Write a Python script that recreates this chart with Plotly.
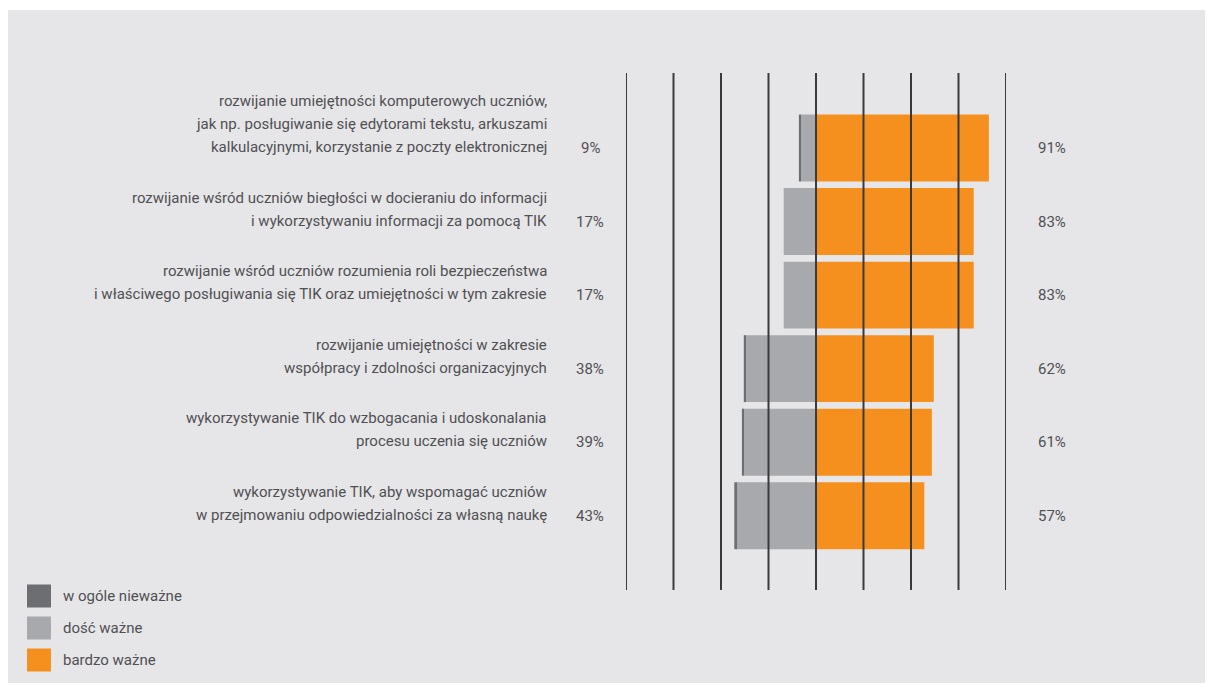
import plotly.graph_objects as go

categories = [
    "rozwijanie umiejętności komputerowych uczniów,\njak np. posługiwanie się edytorami tekstu, arkuszami\nkalkulacyjnymi, korzystanie z poczty elektronicznej",
    "rozwijanie wśród uczniów biegłości w docieraniu do informacji\ni wykorzystywaniu informacji za pomocą TIK",
    "rozwijanie wśród uczniów rozumienia roli bezpieczeństwa\ni właściwego posługiwania się TIK oraz umiejętności w tym zakresie",
    "rozwijanie umiejętności w zakresie\nwspółpracy i zdolności organizacyjnych",
    "wykorzystywanie TIK do wzbogacania i udoskonalania\nprocesu uczenia się uczniów",
    "wykorzystywanie TIK, aby wspomagać uczniów\nw przejmowaniu odpowiedzialności za własną naukę",
]
not_important = [1, 0, 0, 1, 1, 1]        # w ogóle nieważne
fairly_important = [8, 17, 17, 37, 38, 42]  # dość ważne
very_important = [91, 83, 83, 62, 61, 57]   # bardzo ważne
left_labels = ["9%", "17%", "17%", "38%", "39%", "43%"]
right_labels = ["91%", "83%", "83%", "62%", "61%", "57%"]
grid_ticks = [-100, -75, -50, -25, 0, 25, 50, 75, 100]

series_names = ["w ogóle nieważne", "dość ważne", "bardzo ważne"]
series_colors = ["#6d6e71", "#a8a9ad", "#f5901f"]

BG = "#e6e6e8"
TXT = "#505053"
FONT = "Roboto, Open Sans, sans-serif"

OFF = 8  # default page body margin
W, H = 1213, 683
L, R, T, B = 626 - OFF, 1006 - OFF, 73 - OFF, 590 - OFF


def px_x(p):
    return (p - OFF - L) / (R - L)


def px_y(p):
    return (B - (p - OFF)) / (B - T)


ypos = list(range(len(categories)))

fig = go.Figure()
fig.add_trace(go.Bar(y=ypos, x=[-v for v in fairly_important], orientation="h",
                     marker=dict(color=series_colors[1], line=dict(width=0)),
                     name=series_names[1], showlegend=False, hoverinfo="skip"))
fig.add_trace(go.Bar(y=ypos, x=[-v for v in not_important], orientation="h",
                     marker=dict(color=series_colors[0], line=dict(width=0)),
                     name=series_names[0], showlegend=False, hoverinfo="skip"))
fig.add_trace(go.Bar(y=ypos, x=very_important, orientation="h",
                     marker=dict(color=series_colors[2], line=dict(width=0)),
                     name=series_names[2], showlegend=False, hoverinfo="skip"))

shapes = []
# gray background panel (page coords: x>=8, y>=10)
shapes.append(dict(type="rect", xref="paper", yref="paper", layer="below",
                   x0=px_x(8), x1=px_x(1240), y0=px_y(710), y1=px_y(10),
                   fillcolor=BG, line=dict(width=0)))
# vertical grid lines drawn above bars
for t in grid_ticks:
    shapes.append(dict(type="line", xref="x", yref="paper", layer="above",
                       x0=t, x1=t, y0=0, y1=1,
                       line=dict(color="#3a3a3c", width=2)))

annotations = []
LINE_H = 23
FS = 15
for i, cat in enumerate(categories):
    lines = cat.split("\n")
    n = len(lines)
    for k, line in enumerate(lines):
        from_last = n - 1 - k
        annotations.append(dict(xref="paper", yref="y", x=px_x(549), y=i,
                                xanchor="right", yanchor="middle",
                                yshift=LINE_H * from_last + 1,
                                text=line, showarrow=False,
                                font=dict(family=FONT, size=FS, color=TXT)))
    annotations.append(dict(xref="paper", yref="y", x=px_x(590), y=i,
                            xanchor="center", yanchor="middle",
                            text=left_labels[i], showarrow=False,
                            font=dict(family=FONT, size=FS, color=TXT)))
    annotations.append(dict(xref="paper", yref="y", x=px_x(1036), y=i,
                            xanchor="left", yanchor="middle",
                            text=right_labels[i], showarrow=False,
                            font=dict(family=FONT, size=FS, color=TXT)))

# custom legend
leg_y = [596, 628, 660]
for name, col, cy in zip(series_names, series_colors, leg_y):
    shapes.append(dict(type="rect", xref="paper", yref="paper", layer="above",
                       x0=px_x(27), x1=px_x(51), y0=px_y(cy + 11.5), y1=px_y(cy - 11.5),
                       fillcolor=col, line=dict(width=0)))
    annotations.append(dict(xref="paper", yref="paper", x=px_x(61), y=px_y(cy),
                            xanchor="left", yanchor="middle", text=name,
                            showarrow=False,
                            font=dict(family=FONT, size=15, color=TXT)))

fig.update_layout(
    width=W, height=H,
    margin=dict(l=L, r=W - R, t=T, b=H - B, pad=0),
    paper_bgcolor="white",
    plot_bgcolor=BG,
    barmode="relative",
    bargap=0.09,
    xaxis=dict(range=[-100, 100], showgrid=False, zeroline=False,
               showticklabels=False, showline=False, fixedrange=True),
    yaxis=dict(range=[6.01, -1.02], showgrid=False, zeroline=False,
               showticklabels=False, showline=False, fixedrange=True),
    shapes=shapes,
    annotations=annotations,
    showlegend=False,
)

fig.write_html("out.html")
